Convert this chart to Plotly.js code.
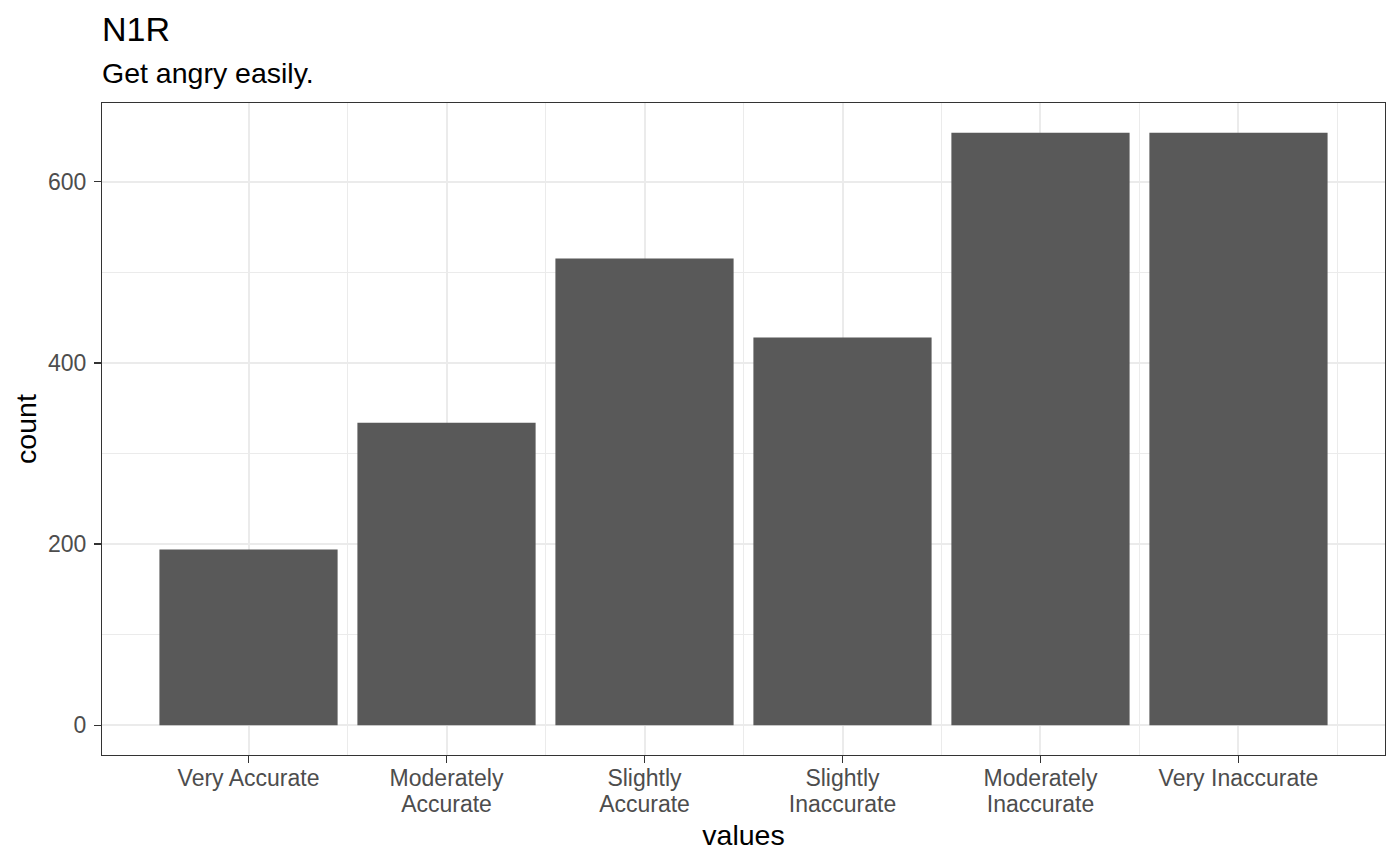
<!DOCTYPE html>
<html>
<head>
<meta charset="utf-8">
<script src="https://cdn.plot.ly/plotly-3.0.1.min.js"></script>
<style>html,body{margin:0;padding:0;background:#fff;}#chart{width:1400px;height:865px;}</style>
</head>
<body>
<div id="chart"></div>
<script>
const categories = ["Very Accurate", "Moderately\nAccurate", "Slightly\nAccurate", "Slightly\nInaccurate", "Moderately\nInaccurate", "Very Inaccurate"];
const counts = [194, 334, 515, 428, 654, 654];
const yTicks = [0, 200, 400, 600];
const yMinorTicks = [100, 300, 500];
const titleText = "N1R";
const subtitleText = "Get angry easily.";
const xTitle = "values";
const yTitle = "count";

const positions = categories.map((_, i) => i);
const minorX = categories.map((_, i) => i + 0.5);
const line1 = categories.map(c => c.split("\n")[0]);
const line2 = categories.map(c => c.split("\n")[1] || "");
const ymax = Math.max(...counts);
const pad = ymax * 0.05;
const xRange = [-0.74, categories.length - 1 + 0.74];

const trace = {
  type: 'bar',
  x: positions,
  y: counts,
  width: 0.9,
  marker: {color: '#595959', line: {width: 0}},
  hoverinfo: 'x+y'
};
const helper = {type: 'scatter', x: [], y: [], xaxis: 'x2', yaxis: 'y', showlegend: false, hoverinfo: 'skip'};

const font = "Liberation Sans, Arial, Helvetica, sans-serif";
const tickFont = {family: font, size: 23, color: '#4d4d4d'};

const layout = {
  width: 1400, height: 865,
  margin: {l: 102, r: 15, t: 103, b: 110},
  paper_bgcolor: '#ffffff',
  plot_bgcolor: '#ffffff',
  font: {family: font, color: '#000'},
  showlegend: false,
  title: {
    text: titleText,
    font: {family: font, size: 34, color: '#000'},
    xref: 'paper', x: 0, xanchor: 'left',
    yref: 'container', y: 1 - 29/865, yanchor: 'middle'
  },
  annotations: [{
    text: subtitleText,
    xref: 'paper', x: 0, xanchor: 'left', xshift: -2,
    yref: 'paper', y: (755 - 73) / 652, yanchor: 'middle',
    showarrow: false,
    font: {family: font, size: 28.5, color: '#000'}
  }],
  xaxis: {
    range: xRange,
    tickmode: 'array',
    tickvals: positions,
    ticktext: line1,
    ticks: '', ticklabelstandoff: 2,
    tickfont: tickFont,
    showgrid: true, gridcolor: '#ebebeb', gridwidth: 2,
    minor: {tickmode: 'array', tickvals: minorX, showgrid: true, gridcolor: '#ebebeb', gridwidth: 1, ticklen: 0},
    showline: true, mirror: true, linecolor: '#333333', linewidth: 1,
    zeroline: false
  },
  xaxis2: {
    overlaying: 'x', anchor: 'y', side: 'bottom',
    range: xRange,
    tickmode: 'array',
    tickvals: positions,
    ticktext: line2,
    ticks: 'outside', ticklen: 7, tickwidth: 1.5, tickcolor: '#333333',
    ticklabelstandoff: 21,
    tickfont: tickFont,
    showgrid: false, showline: false, zeroline: false,
    title: {text: xTitle, font: {family: font, size: 28.5, color: '#000'}, standoff: 9}
  },
  yaxis: {
    range: [-pad, ymax + pad],
    tickmode: 'array',
    tickvals: yTicks,
    ticks: 'outside', ticklen: 7, tickwidth: 1.5, tickcolor: '#333333',
    tickfont: tickFont, ticklabelstandoff: 3,
    showgrid: true, gridcolor: '#ebebeb', gridwidth: 2,
    minor: {tickmode: 'array', tickvals: yMinorTicks, showgrid: true, gridcolor: '#ebebeb', gridwidth: 1, ticklen: 0},
    showline: true, mirror: true, linecolor: '#333333', linewidth: 1,
    zeroline: false,
    title: {text: yTitle, font: {family: font, size: 28.5, color: '#000'}, standoff: 3}
  }
};

Plotly.newPlot('chart', [trace, helper], layout, {displayModeBar: false, staticPlot: true});
</script>
</body>
</html>
